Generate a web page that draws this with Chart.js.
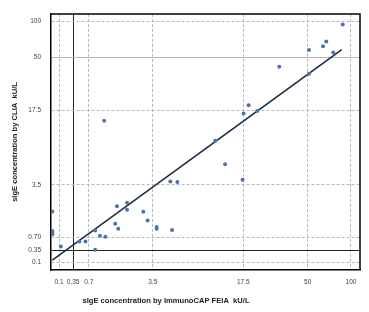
<!DOCTYPE html>
<html><head><meta charset="utf-8">
<script src="https://cdn.jsdelivr.net/npm/chart.js@4/dist/chart.umd.min.js"></script>
<style>html,body{margin:0;padding:0;background:#fff;}canvas{display:block;}</style>
</head><body>
<canvas id="c" width="369" height="312"></canvas>
<script>
// ---- data ----
const xTickValues = [0.1, 0.35, 0.7, 3.5, 17.5, 50, 100];
const xTickLabels = ['0.1', '0.35', '0.7', '3.5', '17.5', '50', '100'];
const yTickValues = [0.1, 0.35, 0.7, 3.5, 17.5, 50, 100];
const yTickLabels = ['0.1', '0.35', '0.70', '3.5', '17.5', '50', '100'];

// sIgE by ImmunoCAP FEIA (x) and by CLIA (y), kU/L
const immunoCAP = [0, 0, 0, 0, 0.13, 0.48, 0.62, 0.87, 0.87, 1.01, 1.18, 1.53, 1.65, 1.60, 2.03, 2.03, 2.89, 3.16, 3.78, 3.78, 5.07, 4.91, 5.59, 1.14, 10.9, 12.9, 17.3, 17.6, 19.1, 22.0, 31.6, 51.1, 51.1, 64.0, 67.4, 75.4, 87.7];
const clia      = [1.74, 0.92, 0.86, 0.81, 0.45, 0.59, 0.59, 0.94, 0.37, 0.76, 0.73, 1.19, 1.00, 2.03, 2.22, 1.84, 1.73, 1.33, 1.06, 1.00, 0.95, 3.79, 3.75, 14.2, 9.37, 5.63, 3.97, 16.4, 19.4, 17.25, 41.5, 57.7, 36.3, 61.9, 68.1, 54.9, 94.4];

// regression line end points
const fitX = [0, 86.3];
const fitY = [0.14, 58.1];

const xTitle = 'sIgE concentration by ImmunoCAP FEIA  kU/L';
const yTitle = 'sIgE concentration by CLIA  kU/L';

// ---- axis transform ----
const tf = v => Math.log10(v + 0.9);
const FONT = '"Liberation Sans", Arial, sans-serif';

const points = immunoCAP.map((x, i) => ({ x: tf(x), y: tf(clia[i]) }));
const fitLine = fitX.map((x, i) => ({ x: tf(x), y: tf(fitY[i]) }));

const frame = {
  id: 'frame',
  afterDatasetsDraw(chart) {
    const { ctx, chartArea: a } = chart;
    ctx.save();
    ctx.strokeStyle = '#000';
    ctx.lineWidth = 1.5;
    ctx.beginPath();
    ctx.moveTo(a.left, a.top);
    ctx.lineTo(a.right, a.top);
    ctx.lineTo(a.right, a.bottom);
    ctx.stroke();
    ctx.restore();
  },
  afterDraw(chart) {
    const { ctx } = chart;
    ctx.save();
    ctx.font = 'bold 7.6px ' + FONT;
    ctx.fillStyle = '#222';
    ctx.textAlign = 'center';
    ctx.textBaseline = 'middle';
    ctx.fillText(xTitle, 166, 301);
    ctx.restore();
  }
};

new Chart(document.getElementById('c'), {
  type: 'scatter',
  data: {
    datasets: [
      {
        type: 'line',
        data: fitLine,
        borderColor: '#1c2a45',
        borderWidth: 1.6,
        pointRadius: 0,
        fill: false,
        order: 1
      },
      {
        data: points,
        backgroundColor: '#4a74ad',
        borderColor: '#4a74ad',
        pointRadius: 2,
        borderWidth: 0,
        order: 0
      }
    ]
  },
  options: {
    responsive: false,
    animation: false,
    devicePixelRatio: 1,
    layout: { padding: { top: 7, right: 9, left: 0, bottom: 0 } },
    plugins: { legend: { display: false }, tooltip: { enabled: false } },
    scales: {
      x: {
        type: 'linear',
        min: -0.055,
        max: 2.066,
        afterBuildTicks: s => { s.ticks = xTickValues.map(v => ({ value: tf(v) })); },
        afterFit: s => { s.height = 42; },
        ticks: {
          callback: (v, i) => xTickLabels[i],
          font: { size: 6.5, family: FONT },
          color: '#444',
          padding: 8,
          maxRotation: 0,
          autoSkip: false
        },
        grid: {
          drawTicks: false,
          color: c => c.index === 1 ? '#222' : '#b8b8b8',
          lineWidth: 1
        },
        border: {
          color: '#000',
          width: 1.5,
          dash: c => (c.type === 'tick' && c.index === 1) ? [] : [3, 2]
        }
      },
      y: {
        type: 'linear',
        min: -0.065,
        max: 2.068,
        afterBuildTicks: s => { s.ticks = yTickValues.map(v => ({ value: tf(v) })); },
        afterFit: s => { s.width = 51; },
        ticks: {
          callback: (v, i) => yTickLabels[i],
          font: { size: 6.5, family: FONT },
          color: '#444',
          padding: 10,
          autoSkip: false
        },
        title: {
          display: true,
          text: yTitle,
          font: { size: 7.6, weight: 'bold', family: FONT },
          color: '#222',
          padding: { top: 10, bottom: 0 }
        },
        grid: {
          drawTicks: false,
          color: c => c.index === 1 ? '#222' : '#b8b8b8',
          lineWidth: 1
        },
        border: {
          color: '#000',
          width: 1.5,
          dash: c => (c.type === 'tick' && (c.index === 1 || c.index === 5)) ? [] : [3, 2]
        }
      }
    }
  },
  plugins: [frame]
});
</script>
</body></html>
